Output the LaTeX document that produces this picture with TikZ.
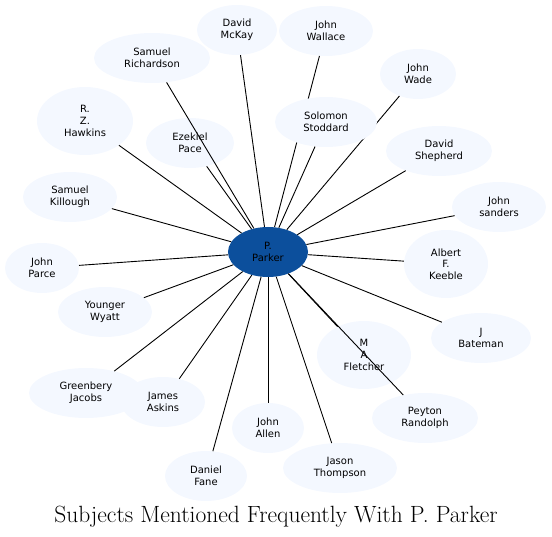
\documentclass[tikz,border=0pt]{standalone}
\usepackage{fontspec}
\newfontfamily\leaffont{DejaVu Sans}
\usepackage{xcolor}
\definecolor{hubBlue} {HTML}{0C4F9C}
\definecolor{leafBack}{HTML}{F4F8FF}
\usetikzlibrary{shapes.geometric}

\begin{document}
\begin{tikzpicture}[
    x=1pt, y=-1pt,
    every node/.style={font=\leaffont\fontsize{10}{11.7}\selectfont, align=center},
    hub/.style={ellipse, fill=hubBlue, text=black,
                minimum width=80pt, minimum height=50pt, inner sep=0pt},
    leaf/.style={ellipse, fill=leafBack, text=black,
                 minimum height=50pt, inner sep=0pt},
    tall/.style={leaf, minimum height=68pt},
    link/.style={draw=black, line width=0.9pt}
]
\useasboundingbox (0,0) rectangle (552,537);
% Subject in the middle
\node[hub] (PP) at (268,252) {P.\\Parker};
% Upper half
\node[leaf, minimum width=80pt]  (DM)  at (237,30)  {David\\McKay};
\node[leaf, minimum width=94pt]  (JWL) at (326,31)  {John\\Wallace};
\node[leaf, minimum width=116pt] (SR)  at (152,58)  {Samuel\\Richardson};
\node[tall, minimum width=96pt]  (RZH) at (85,121)  {R.\\Z.\\Hawkins};
\node[leaf, minimum width=88pt]  (EP)  at (190,143) {Ezekiel\\Pace};
\node[leaf, minimum width=94pt]  (SK)  at (70,197)  {Samuel\\Killough};
\node[leaf, minimum width=76pt]  (JWD) at (418,74)  {John\\Wade};
\node[leaf, minimum width=106pt] (DS)  at (439,151) {David\\Shepherd};
\node[leaf, minimum width=94pt]  (JS)  at (499,207) {John\\sanders};
% Lower half
\node[tall, minimum width=84pt]  (AFK) at (446,264) {Albert\\F.\\Keeble};
\node[leaf, minimum width=100pt] (JB)  at (481,338) {J\\Bateman};
\node[tall, minimum width=94pt]  (MAF) at (364,355) {M\\A\\Fletcher};
\node[leaf, minimum width=106pt] (PR)  at (425,418) {Peyton\\Randolph};
\node[leaf, minimum width=114pt] (JT)  at (340,468) {Jason\\Thompson};
\node[leaf, minimum width=72pt]  (JA)  at (268,428) {John\\Allen};
\node[leaf, minimum width=82pt]  (DF)  at (206,476) {Daniel\\Fane};
\node[leaf, minimum width=114pt] (GJ)  at (86,393)  {Greenbery\\Jacobs};
\node[leaf, minimum width=84pt]  (JAS) at (163,402) {James\\Askins};
\node[leaf, minimum width=94pt]  (YW)  at (105,312) {Younger\\Wyatt};
\node[leaf, minimum width=74pt]  (JP)  at (42,268)  {John\\Parce};
% These two run under Stoddard
\draw[link] (PP) -- (JWL);
\draw[link] (PP) -- (JWD);
\node[leaf, minimum width=102pt] (SS)  at (326,122) {Solomon\\Stoddard};
% Spokes
\draw[link] (PP) -- (DM);
\draw[link] (PP) -- (SR);
\draw[link] (PP) -- (RZH);
\draw[link] (PP) -- (EP);
\draw[link] (PP) -- (SK);
\draw[link] (PP) -- (SS);
\draw[link] (PP) -- (DS);
\draw[link] (PP) -- (JS);
\draw[link] (PP) -- (AFK);
\draw[link] (PP) -- (JB);
\draw[link] (PP) -- (MAF);
\draw[link] (PP) -- (PR);
\draw[link] (PP) -- (JT);
\draw[link] (PP) -- (JA);
\draw[link] (PP) -- (DF);
\draw[link] (PP) -- (JAS);
\draw[link] (PP) -- (GJ);
\draw[link] (PP) -- (YW);
\draw[link] (PP) -- (JP);
% Caption
\node[font=\fontsize{23.5}{28}\selectfont, anchor=base] (title) at (276,522)
    {Subjects Mentioned Frequently With P. Parker};
\end{tikzpicture}
\end{document}
